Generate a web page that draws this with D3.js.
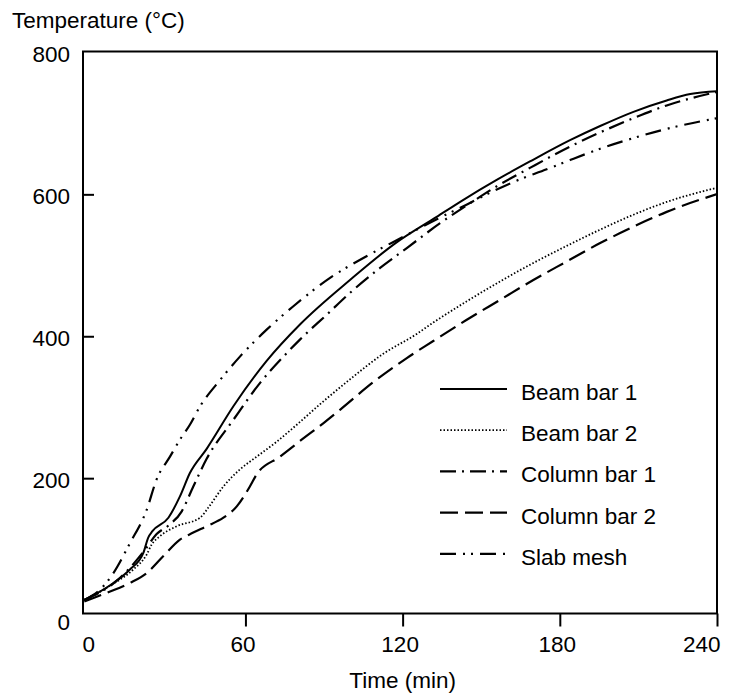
<!DOCTYPE html>
<html>
<head>
<meta charset="utf-8">
<script src="https://cdn.jsdelivr.net/npm/d3@7"></script>
<style>
  body { margin: 0; background: #fff; }
  text { font-family: "Liberation Sans", Arial, sans-serif; font-size: 22.5px; fill: #000; }
</style>
</head>
<body>
<div id="chart"></div>
<script>
// Tick values
const xTicks = [0, 60, 120, 180, 240];
const yTicks = [0, 200, 400, 600, 800];

// Series: [time (min), temperature (°C)]
const beamBar1 = [[-1.5, 29], [9.6, 53], [15.9, 72], [21, 95], [22.9, 117], [24.5, 126], [30.6, 145], [35, 175],
  [38.8, 208], [45.2, 242], [55.4, 302], [68.1, 366], [81, 418], [99.9, 480], [117.7, 533], [133, 569],
  [143.2, 593], [155.9, 621], [168.6, 647], [183.9, 677], [195.4, 697], [208.1, 717], [220.8, 733],
  [229.8, 742], [240, 746]];
const beamBar2 = [[-1.5, 29], [9.6, 52], [17.2, 72], [22.3, 93], [24.2, 107], [27.4, 119], [33.8, 133], [42.7, 145],
  [45.8, 159], [51.6, 189], [57.9, 213], [64.3, 231], [71.9, 252], [79.6, 276], [88.5, 305], [99.9, 340],
  [112.6, 376], [125.4, 404], [131.7, 420], [144.5, 450], [157.2, 478], [169.9, 504], [182.6, 528],
  [195.4, 551], [208.1, 572], [220.8, 590], [240, 610]];
const columnBar1 = [[-1.5, 29], [12.1, 60], [21.7, 100], [26.1, 122], [30.6, 134], [35.7, 154], [40.1, 189],
  [45.2, 228], [55.4, 283], [65.6, 335], [74.5, 372], [80.8, 396], [91, 431], [101.2, 466], [111.4, 497],
  [121.6, 525], [134.3, 560], [145.7, 588], [155.9, 612], [168.6, 638], [183.9, 668], [195.4, 688],
  [208.1, 708], [220.8, 726], [240, 745]];
const columnBar2 = [[-1.5, 27], [7, 39], [15.9, 53], [22.3, 67], [28.7, 91], [35, 114], [40.1, 124], [45.2, 133],
  [51.6, 145], [56.7, 161], [61.7, 189], [64.3, 206], [73.2, 231], [80.8, 253], [89.7, 278], [96.1, 297],
  [108.8, 336], [121.6, 370], [131.7, 394], [144.5, 424], [157.2, 452], [169.9, 480], [182.6, 506],
  [195.4, 532], [208.1, 555], [220.8, 576], [240, 601]];
const slabMesh = [[-1.5, 29], [5.7, 48], [9.6, 67], [15.9, 109], [22.3, 156], [26.1, 199], [31.2, 231], [35, 255],
  [38.8, 276], [42.7, 302], [50.3, 339], [57.9, 372], [68.1, 410], [78.3, 443], [92.3, 483], [105, 511],
  [120.3, 541], [134.3, 568], [143.2, 584], [153.4, 603], [163.5, 620], [175, 636], [183.9, 649],
  [195.4, 665], [208.1, 680], [220.8, 693], [240, 708]];

const seriesNames = ["Beam bar 1", "Beam bar 2", "Column bar 1", "Column bar 2", "Slab mesh"];
const seriesData = [beamBar1, beamBar2, columnBar1, columnBar2, slabMesh];

const width = 732;
const height = 698;
const plotLeft = 83, plotRight = 717, plotTop = 51.5, plotBottom = 613.5;

const svg = d3.select("#chart")
    .append("svg")
    .attr("width", width)
    .attr("height", height);

const x = d3.scaleLinear().domain([-2, 240]).range([plotLeft, plotRight]);
const y = d3.scaleLinear().domain([10, 802]).range([plotBottom, plotTop]);

// line styles
const dashes = ["none", "1.5,2", "16,6,2,6", "18,7", "16,7,2,6,2,7"];
const widths = [2, 1.8, 2.2, 2.2, 2.2];

svg.append("clipPath").attr("id", "clip")
    .append("rect")
    .attr("x", plotLeft).attr("y", plotTop)
    .attr("width", plotRight - plotLeft).attr("height", plotBottom - plotTop);

const line = d3.line()
    .x(d => x(d[0]))
    .y(d => y(d[1]))
    .curve(d3.curveMonotoneX);

svg.append("g")
    .attr("clip-path", "url(#clip)")
    .selectAll("path")
    .data(seriesData)
    .enter().append("path")
    .attr("d", line)
    .attr("fill", "none")
    .attr("stroke", "#000")
    .attr("stroke-width", (d, i) => widths[i])
    .attr("stroke-dasharray", (d, i) => dashes[i]);

// frame
svg.append("rect")
    .attr("x", plotLeft).attr("y", plotTop)
    .attr("width", plotRight - plotLeft).attr("height", plotBottom - plotTop)
    .attr("fill", "none")
    .attr("stroke", "#000")
    .attr("stroke-width", 2);

// x axis: outward ticks
const xAxis = svg.append("g")
    .attr("transform", `translate(0,${plotBottom})`)
    .call(d3.axisBottom(x).tickValues(xTicks).tickSize(13).tickPadding(10).tickFormat(d3.format("d")));
xAxis.select(".domain").remove();
xAxis.selectAll("line").attr("stroke", "#000").attr("stroke-width", 2)
    .filter(d => d === 0).remove();
xAxis.selectAll("text").style("font-size", null).style("font-family", null).attr("fill", "#000")
    .attr("text-anchor", d => d === 240 ? "end" : "middle")
    .attr("x", d => d === 240 ? 3 : (d === 0 ? 0 : -3));

// y axis: labels outside, ticks inward
const yAxis = svg.append("g")
    .attr("transform", `translate(${plotLeft},0)`)
    .call(d3.axisLeft(y).tickValues(yTicks).tickSize(0).tickPadding(13));
yAxis.select(".domain").remove();
yAxis.selectAll("text").style("font-size", null).style("font-family", null).attr("fill", "#000")
    .attr("dy", "0.4em");

svg.append("g")
    .selectAll("line")
    .data(yTicks.filter(d => d > 0 && d < 800))
    .enter().append("line")
    .attr("x1", plotLeft).attr("x2", plotLeft + 11)
    .attr("y1", d => y(d)).attr("y2", d => y(d))
    .attr("stroke", "#000")
    .attr("stroke-width", 2);

// axis titles
svg.append("text")
    .attr("x", 12)
    .attr("y", 28)
    .text("Temperature (°C)");

svg.append("text")
    .attr("x", x(120))
    .attr("y", 688)
    .attr("text-anchor", "middle")
    .text("Time (min)");

// legend
const legend = svg.append("g")
    .attr("transform", "translate(440,389)");

legend.selectAll("line")
    .data(seriesNames)
    .enter().append("line")
    .attr("x1", 0).attr("x2", 67)
    .attr("y1", (d, i) => i * 41.2).attr("y2", (d, i) => i * 41.2)
    .attr("stroke", "#000")
    .attr("stroke-width", (d, i) => widths[i])
    .attr("stroke-dasharray", (d, i) => dashes[i]);

legend.selectAll("text")
    .data(seriesNames)
    .enter().append("text")
    .attr("x", 81)
    .attr("y", (d, i) => i * 41.2 + 11)
    .text(d => d);
</script>
</body>
</html>
